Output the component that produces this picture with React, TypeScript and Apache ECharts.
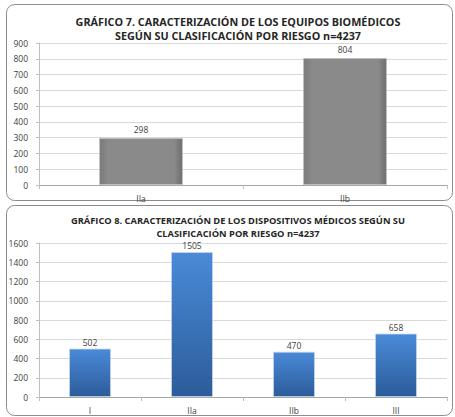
import React, { useEffect, useRef } from "react";
import * as echarts from "echarts";

const title7 = ["GRÁFICO 7. CARACTERIZACIÓN DE LOS EQUIPOS BIOMÉDICOS", "SEGÚN SU CLASIFICACIÓN POR RIESGO n=4237"];
const cats7 = ["IIa", "IIb"];
const vals7 = [298, 804];
const title8 = ["GRÁFICO 8. CARACTERIZACIÓN DE LOS DISPOSITIVOS MÉDICOS SEGÚN SU", "CLASIFICACIÓN POR RIESGO n=4237"];
const cats8 = ["I", "IIa", "IIb", "III"];
const vals8 = [502, 1505, 470, 658];

const FONT = "'Open Sans', sans-serif";
const textColor = "#404040";

export default function App() {
  const ref = useRef<HTMLDivElement>(null);
  useEffect(() => {
    const chart = echarts.init(ref.current!, undefined, { renderer: "svg" });
    const yAxisCommon = {
      type: "value" as const,
      axisLine: { show: true, lineStyle: { color: "#bfbfbf" } },
      axisTick: { show: true, length: 3, lineStyle: { color: "#bfbfbf" } },
      axisLabel: { color: textColor, fontSize: 8.5, fontFamily: FONT, margin: 11, formatter: (v: number) => String(v) },
      splitLine: { lineStyle: { color: "#d9d9d9" } },
    };
    const xAxisCommon = {
      type: "category" as const,
      axisLine: { lineStyle: { color: "#a6a6a6" } },
      axisTick: { show: true, length: 4, lineStyle: { color: "#bfbfbf" } },
      axisLabel: { color: textColor, fontSize: 8.5, fontFamily: FONT, margin: 9 },
    };
    const labelCommon = {
      show: true,
      position: "top" as const,
      color: textColor,
      fontSize: 8.5,
      fontFamily: FONT,
      distance: 2,
    };
    chart.setOption({
      animation: false,
      backgroundColor: "#ffffff",
      textStyle: { fontFamily: FONT },
      graphic: [
        { type: "rect", shape: { x: 6.5, y: 4.5, width: 446, height: 196, r: 8 }, style: { fill: "none", stroke: "#8c8c8c", lineWidth: 1 }, z: -1 },
        { type: "rect", shape: { x: 6.5, y: 205.5, width: 446, height: 210, r: 8 }, style: { fill: "none", stroke: "#8c8c8c", lineWidth: 1 }, z: -1 },
      ],
      title: [
        {
          text: title7.join("\n"),
          left: 233,
          top: 9,
          textAlign: "center",
          textStyle: { fontFamily: FONT, fontSize: 10.8, fontWeight: "bold", color: "#262626", lineHeight: 14 },
        },
        {
          text: title8.join("\n"),
          left: 233,
          top: 209,
          textAlign: "center",
          textStyle: { fontFamily: FONT, fontSize: 9.3, fontWeight: "bold", color: "#262626", lineHeight: 13 },
        },
      ],
      grid: [
        { left: 39, right: 8, top: 43, height: 142, containLabel: false },
        { left: 39, right: 8, top: 243, height: 154, containLabel: false },
      ],
      xAxis: [
        { ...xAxisCommon, gridIndex: 0, data: cats7 },
        { ...xAxisCommon, gridIndex: 1, data: cats8 },
      ],
      yAxis: [
        { ...yAxisCommon, gridIndex: 0, min: 0, max: 900, interval: 100 },
        { ...yAxisCommon, gridIndex: 1, min: 0, max: 1600, interval: 200 },
      ],
      series: [
        {
          type: "bar",
          xAxisIndex: 0,
          yAxisIndex: 0,
          data: vals7,
          barWidth: "41%",
          label: { ...labelCommon, distance: 4 },
          itemStyle: {
            color: new echarts.graphic.LinearGradient(0, 0, 1, 0, [
              { offset: 0, color: "#7a7a7a" },
              { offset: 0.1, color: "#8a8a8a" },
              { offset: 0.9, color: "#8a8a8a" },
              { offset: 1, color: "#6e6e6e" },
            ]),
            borderColor: "#bdbdbd",
            borderWidth: 0.8,
          },
        },
        {
          type: "bar",
          xAxisIndex: 1,
          yAxisIndex: 1,
          data: vals8,
          barWidth: "41%",
          label: labelCommon,
          itemStyle: {
            color: new echarts.graphic.LinearGradient(0, 0, 0, 1, [
              { offset: 0, color: "#4a8ad8" },
              { offset: 1, color: "#2c5c9a" },
            ]),
            borderColor: "#c5d4e8",
            borderWidth: 0.8,
          },
        },
      ],
    });
    return () => chart.dispose();
  }, []);
  return (
    <div
      ref={ref}
      style={{ position: "fixed", left: 0, top: 0, width: 455, height: 417, background: "#fff" }}
    />
  );
}
